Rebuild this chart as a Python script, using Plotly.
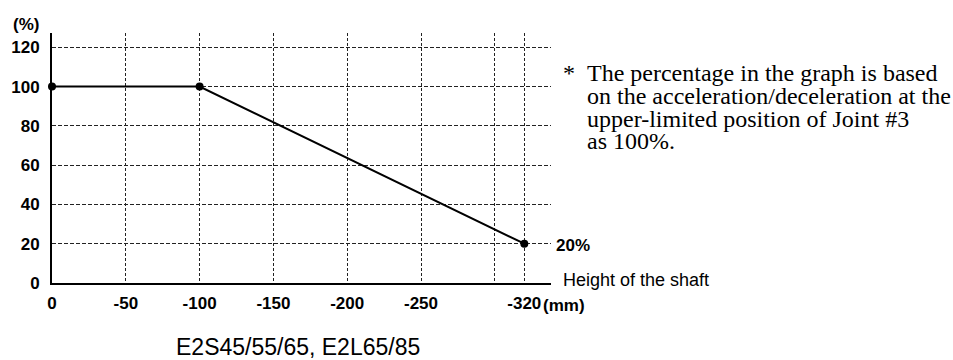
import plotly.graph_objects as go

# ---- data ----
shaft_height_mm = [0, -100, -320]
accel_percent = [100, 100, 20]
x_tick_values = [0, -50, -100, -150, -200, -250, -300, -320]
x_tick_labels = ["0", "-50", "-100", "-150", "-200", "-250", "", "-320"]
y_tick_values = [0, 20, 40, 60, 80, 100, 120]
y_tick_labels = ["0", "20", "40", "60", "80", "100", "120"]
note_lines = [
    "The percentage in the graph is based",
    "on the acceleration/deceleration at the",
    "upper-limited position of Joint #3",
    "as 100%.",
]
model_label = "E2S45/55/65, E2L65/85"

# ---- layout geometry (pixels) ----
W, H = 953, 360
ML, MR, MT, MB = 52, 402, 33, 77
PW = W - ML - MR
PH = H - MT - MB


def xp(px):
    return (px - ML) / PW


def yp(py):
    return (H - MB - py) / PH


SANS = "Liberation Sans, Arial, sans-serif"
SERIF = "Liberation Serif, Times New Roman, serif"

fig = go.Figure()
fig.add_trace(go.Scatter(
    x=shaft_height_mm, y=accel_percent, mode="lines+markers",
    line=dict(color="black", width=2),
    marker=dict(color="black", size=8),
    showlegend=False, hoverinfo="skip", cliponaxis=False,
))

fig.update_xaxes(
    range=[0, -PW / 1.476], autorange=False,
    tickmode="array", tickvals=x_tick_values, ticktext=x_tick_labels,
    showgrid=True, gridcolor="#222", gridwidth=1, griddash="3px,2px",
    showline=True, linecolor="black", linewidth=2, zeroline=False,
    ticks="", ticklabelstandoff=4,
    tickfont=dict(family=SANS, size=17, color="black", weight="bold"),
)
fig.update_yaxes(
    range=[0, PH / 1.964], autorange=False,
    tickmode="array", tickvals=y_tick_values, ticktext=y_tick_labels,
    showgrid=True, gridcolor="#222", gridwidth=1, griddash="4px,2px",
    showline=True, linecolor="black", linewidth=2, zeroline=False,
    ticks="", ticklabelstandoff=7,
    tickfont=dict(family=SANS, size=17, color="black", weight="bold"),
)

ann = []


def add_text(text, px, py, family, size, bold=False, anchor="left"):
    ann.append(dict(
        text=text, x=xp(px), y=yp(py), xref="paper", yref="paper",
        xanchor=anchor, yanchor="middle", showarrow=False,
        font=dict(family=family, size=size, color="black",
                  weight="bold" if bold else "normal"),
    ))


add_text("(%)", 11, 25, SANS, 17, bold=True)
add_text("20%", 554, 245, SANS, 17, bold=True)
add_text("(mm)", 541, 305, SANS, 17, bold=True)
add_text("Height of the shaft", 561, 280, SANS, 18)
add_text(model_label, 174, 347, SANS, 23)

note_y = [73, 96, 119, 141]
add_text("*", 561, note_y[0], SERIF, 24)
for line, y in zip(note_lines, note_y):
    add_text(line, 585, y, SERIF, 24)

fig.update_layout(
    width=W, height=H,
    margin=dict(l=ML, r=MR, t=MT, b=MB),
    paper_bgcolor="white", plot_bgcolor="white",
    annotations=ann,
)

fig.write_html(
    "out.html",
    config={"displayModeBar": False},
    post_script="document.body.style.margin='0';document.body.style.overflow='hidden';",
)
